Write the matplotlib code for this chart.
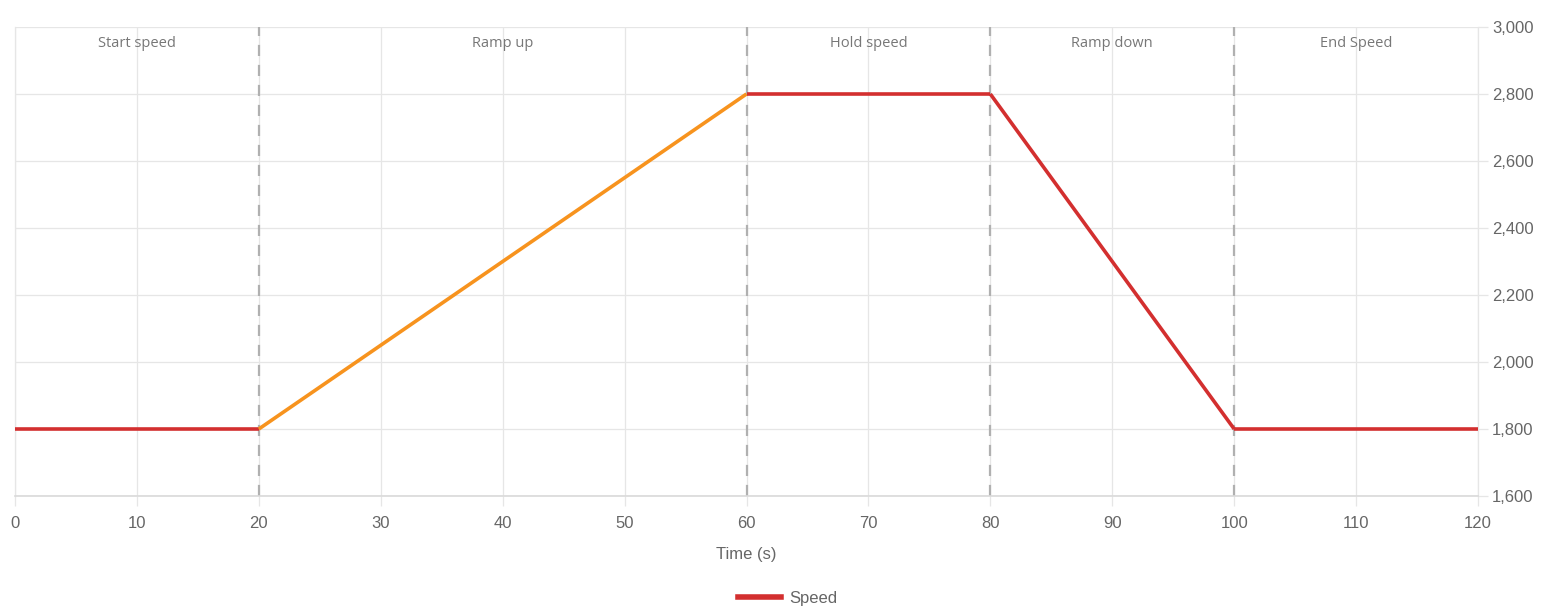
import matplotlib.pyplot as plt
from matplotlib.lines import Line2D

plt.rcParams['font.family'] = ['Liberation Sans', 'DejaVu Sans']

# Speed profile
time_pts = [0, 20, 60, 80, 100, 120]
speed_pts = [1800, 1800, 2800, 2800, 1800, 1800]
ramp_up_idx = (1, 2)  # segment drawn in orange

phase_edges = [20, 60, 80, 100]
phase_names = ['Start speed', 'Ramp up', 'Hold speed', 'Ramp down', 'End Speed']
phase_bounds = [0, 20, 60, 80, 100, 120]

x_ticks = list(range(0, 121, 10))
y_ticks = list(range(1600, 3001, 200))

RED = '#d32f2f'
ORANGE = '#f7931e'
GRID = '#e6e6e6'
TXT = '#666666'

fig = plt.figure(figsize=(15.45, 6.14), dpi=100)
ax = fig.add_axes([15 / 1545, 1 - 496 / 614, (1478 - 15) / 1545, (496 - 27) / 614])

for i in range(len(time_pts) - 1):
    col = ORANGE if (i, i + 1) == ramp_up_idx else RED
    ax.plot(time_pts[i:i + 2], speed_pts[i:i + 2], color=col, lw=2.6,
            solid_capstyle='butt', zorder=3)

for x in phase_edges:
    ax.axvline(x, color='#b0b0b0', lw=1.6, ls=(0, (5, 4)), zorder=2)

for i, name in enumerate(phase_names):
    xc = (phase_bounds[i] + phase_bounds[i + 1]) / 2
    ax.text(xc, 2950, name, ha='center', va='center', fontsize=10.5,
            color='#777777', family=['Open Sans', 'DejaVu Sans'])

ax.set_xlim(0, 120)
ax.set_ylim(1600, 3000)
ax.set_xticks(x_ticks)
ax.set_yticks(y_ticks)
ax.set_yticklabels([f'{v:,}' for v in y_ticks])
ax.yaxis.tick_right()
ax.grid(True, color=GRID, lw=0.9)
ax.tick_params(axis='both', colors=GRID, labelcolor=TXT, labelsize=12, length=7, width=0.9)
ax.tick_params(axis='x', pad=7.5)
ax.tick_params(axis='y', pad=3)

for s in ['left', 'right']:
    ax.spines[s].set_color(GRID)
    ax.spines[s].set_linewidth(0.9)
ax.spines['top'].set_visible(False)
ax.spines['bottom'].set_color('#d9d9d9')
ax.spines['bottom'].set_linewidth(1.2)

ax.set_xlabel('Time (s)', fontsize=12, color=TXT, labelpad=11.5)

handle = Line2D([0], [0], color=RED, lw=4)
fig.legend([handle], ['Speed'], loc='center', bbox_to_anchor=(788 / 1545, 1 - 598 / 614),
           frameon=False, fontsize=12, labelcolor=TXT, handlelength=2.6, handletextpad=0.5)

fig.savefig('out.png', dpi=100)
